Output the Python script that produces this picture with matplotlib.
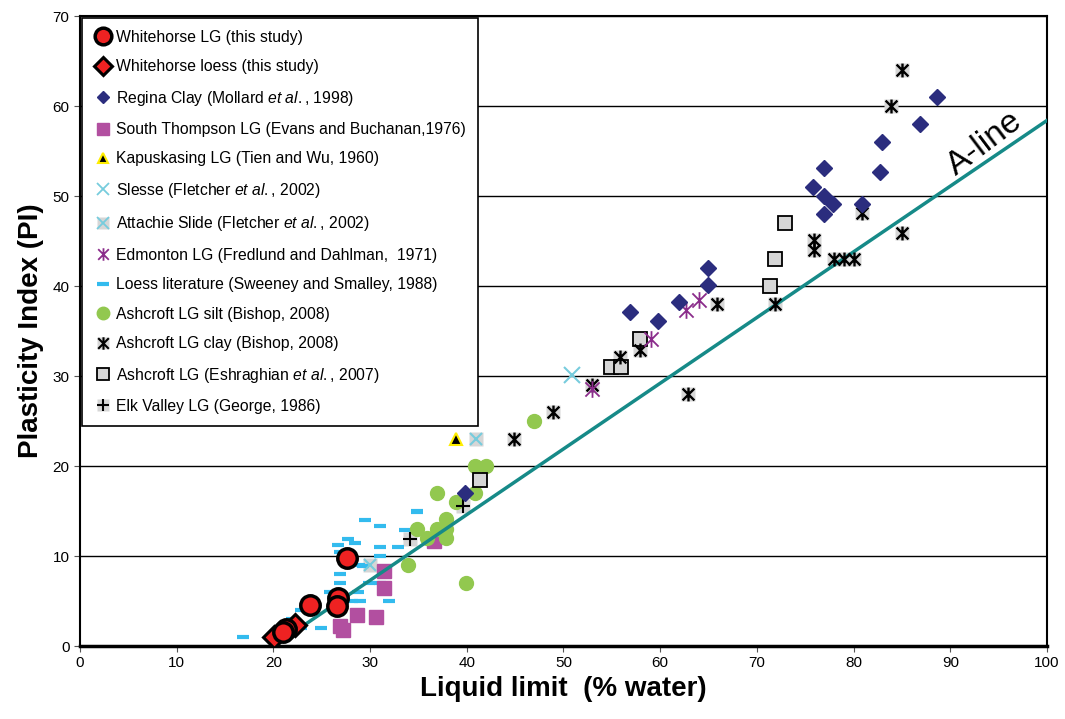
import numpy as np
import matplotlib
matplotlib.use('Agg')
import matplotlib.pyplot as plt
from matplotlib.lines import Line2D
from matplotlib.path import Path

plt.rcParams['font.family'] = ['Liberation Sans', 'DejaVu Sans']
plt.rcParams['mathtext.fontset'] = 'custom'
plt.rcParams['mathtext.it'] = 'Liberation Sans:italic'
plt.rcParams['mathtext.rm'] = 'Liberation Sans'

# liquid limit (LL) and plasticity index (PI) for each data set
wh_lg_ll = [21.3, 21.0, 23.8, 26.7, 26.6, 27.6]
wh_lg_pi = [1.9, 1.6, 4.6, 5.3, 4.4, 9.8]
wh_loess_ll = [20.1, 22.2]
wh_loess_pi = [1.0, 2.3]
regina_ll = [39.8, 56.9, 59.8, 61.9, 64.9, 64.9, 76.9, 75.8, 76.9, 77.9, 76.9, 80.9, 82.7, 82.9, 86.9, 88.6]
regina_pi = [17.0, 37.1, 36.1, 38.2, 42.0, 40.1, 53.1, 51.0, 50.0, 49.1, 48.0, 49.1, 52.7, 56.0, 58.0, 61.0]
sthompson_ll = [31.4, 31.4, 28.6, 30.6, 26.9, 27.2, 36.6]
sthompson_pi = [8.3, 6.5, 3.5, 3.2, 2.2, 1.8, 11.7]
kapus_ll = [38.9]
kapus_pi = [23.0]
slesse_ll = [50.9]
slesse_pi = [30.1]
attachie_ll = [41.0, 30.0]
attachie_pi = [23.0, 9.0]
edmonton_ll = [52.9, 59.1, 62.7, 64.0]
edmonton_pi = [28.6, 34.1, 37.3, 38.5]
loess_ll = [16.9, 21.9, 22.9, 24.9, 22.9, 24.0, 25.9, 28.8, 26.9, 28.1, 29.0, 26.9, 26.9,
            28.9, 29.9, 31.0, 32.0, 26.9, 27.9, 26.7, 27.7, 28.4, 29.5, 31.0, 31.0, 31.0,
            32.9, 33.6, 34.9, 34.8, 29.3]
loess_pi = [1.0, 3.0, 2.0, 2.0, 4.0, 4.0, 6.0, 6.0, 5.0, 5.0, 5.0, 7.0, 8.0,
            9.0, 7.0, 7.0, 5.0, 10.4, 10.0, 11.2, 11.9, 11.4, 14.0, 13.3, 11.0, 10.0,
            11.0, 12.9, 15.0, 14.9, 8.9]
silt_ll = [40.8, 42.0, 36.9, 40.9, 38.9, 37.8, 34.9, 36.9, 37.8, 35.9, 37.8, 33.9, 39.9, 46.9]
silt_pi = [20.0, 20.0, 17.0, 17.0, 16.0, 14.1, 13.0, 13.0, 13.0, 12.0, 12.0, 9.0, 7.0, 25.0]
clay_ll = [44.9, 48.9, 52.9, 55.8, 57.9, 65.9, 62.9, 85.0, 83.9, 80.9, 75.9, 75.9, 85.0,
           78.0, 79.0, 80.0, 71.9]
clay_pi = [23.0, 26.0, 29.0, 32.1, 32.9, 38.0, 28.0, 64.0, 60.0, 48.1, 45.1, 44.0, 45.9,
           43.0, 43.0, 43.0, 38.0]
eshrag_ll = [57.9, 54.9, 55.9, 72.9, 71.9, 71.4, 41.4]
eshrag_pi = [34.1, 31.0, 31.0, 47.0, 43.0, 40.0, 18.4]
elk_ll = [34.1, 39.6]
elk_pi = [11.9, 15.6]

aline_ll = np.array([20, 100])
aline_pi = 0.73 * (aline_ll - 20)

fig = plt.figure(figsize=(10.65, 7.19), dpi=100)
ax = fig.add_axes([0.0751, 0.1015, 0.908, 0.8762])

# "ж"-like asterisk: vertical bar plus an X
ast = Path([(0, -1), (0, 1), (-0.85, -0.85), (0.85, 0.85), (-0.85, 0.85), (0.85, -0.85)],
           [Path.MOVETO, Path.LINETO, Path.MOVETO, Path.LINETO, Path.MOVETO, Path.LINETO])
grey = '#d6d6d6'

def pts(x, y, **kw):
    return ax.plot(x, y, linestyle='none', **kw)[0]

# background grey squares behind the grey-boxed symbols
pts(clay_ll, clay_pi, marker='s', ms=10, mfc=grey, mec='none', zorder=3)
pts(attachie_ll, attachie_pi, marker='s', ms=10, mfc=grey, mec='none', zorder=3)
pts(elk_ll, elk_pi, marker='s', ms=10, mfc=grey, mec='none', zorder=3)

pts(loess_ll, loess_pi, marker='_', ms=9, mew=3, color='#33bbee', zorder=4)
pts(sthompson_ll, sthompson_pi, marker='s', ms=10, mfc='#b24fa0', mec='#b24fa0', zorder=4)
pts(silt_ll, silt_pi, marker='o', ms=10, mfc='#92c84f', mec='#92c84f', zorder=4)
pts(eshrag_ll, eshrag_pi, marker='s', ms=10, mfc=grey, mec='black', mew=1.3, zorder=5)
pts(clay_ll, clay_pi, marker=ast, ms=10, color='black', mew=1.7, zorder=5)
pts(elk_ll, elk_pi, marker='+', ms=10, color='black', mew=1.5, zorder=5)
pts(attachie_ll, attachie_pi, marker='x', ms=9, color='#77ccdd', mew=1.5, zorder=5)
pts(slesse_ll, slesse_pi, marker='x', ms=11, color='#77ccdd', mew=1.5, zorder=5)
pts(edmonton_ll, edmonton_pi, marker=ast, ms=12, color='#8b2c8b', mew=1.3, zorder=5)
pts(kapus_ll, kapus_pi, marker='^', ms=8, mfc='black', mec='#ffee00', mew=1.5, zorder=5)
pts(regina_ll, regina_pi, marker='D', ms=8, mfc='#2b2d7e', mec='#2b2d7e', zorder=5)
pts(wh_loess_ll, wh_loess_pi, marker='D', ms=11, mfc='#ee2222', mec='black', mew=2.2, zorder=6)
pts(wh_lg_ll, wh_lg_pi, marker='o', ms=14, mfc='#ee2222', mec='black', mew=2.5, zorder=6)

ax.plot(aline_ll, aline_pi, color='#168a88', lw=2.5, zorder=4)
ax.text(93.6, 55.8, 'A-line', fontsize=24, rotation=37, ha='center', va='center', rotation_mode='anchor')

ax.set_xlim(0, 100)
ax.set_ylim(0, 70)
ax.set_xticks(range(0, 101, 10))
ax.set_yticks(range(0, 71, 10))
ax.yaxis.grid(True, color='black', lw=1)
ax.set_axisbelow(True)
ax.tick_params(labelsize=11, direction='out', length=4, color='#555555')
for s in ax.spines.values():
    s.set_color('black')
    s.set_linewidth(1.5)
ax.spines['bottom'].set_linewidth(2.5)

ax.set_xlabel('Liquid limit  (% water)', fontsize=20, fontweight='bold', labelpad=4)
ax.set_ylabel('Plasticity Index (PI)', fontsize=20, fontweight='bold', labelpad=6)

def lmk(**kw):
    return Line2D([], [], linestyle='none', **kw)

sq = lambda: lmk(marker='s', ms=9, mfc=grey, mec='none')
handles = [
    lmk(marker='o', ms=12, mfc='#ee2222', mec='black', mew=2.5),
    lmk(marker='D', ms=9, mfc='#ee2222', mec='black', mew=2.2),
    lmk(marker='D', ms=6, mfc='#2b2d7e', mec='#2b2d7e'),
    lmk(marker='s', ms=9, mfc='#b24fa0', mec='#b24fa0'),
    lmk(marker='^', ms=7, mfc='black', mec='#ffee00', mew=1.5),
    lmk(marker='x', ms=8, color='#77ccdd', mew=1.3),
    (sq(), lmk(marker='x', ms=8, color='#77ccdd', mew=1.3)),
    lmk(marker=ast, ms=9, color='#8b2c8b', mew=1.3),
    lmk(marker='_', ms=8, mew=3, color='#33bbee'),
    lmk(marker='o', ms=9, mfc='#92c84f', mec='#92c84f'),
    (sq(), lmk(marker=ast, ms=9, color='black', mew=1.5)),
    lmk(marker='s', ms=9, mfc=grey, mec='black', mew=1.3),
    (sq(), lmk(marker='+', ms=9, color='black', mew=1.5)),
]
labels = [
    'Whitehorse LG (this study)',
    'Whitehorse loess (this study)',
    r'Regina Clay (Mollard $et\ al.$, 1998)',
    'South Thompson LG (Evans and Buchanan,1976)',
    'Kapuskasing LG (Tien and Wu, 1960)',
    r'Slesse (Fletcher $et\ al.$, 2002)',
    r'Attachie Slide (Fletcher $et\ al.$, 2002)',
    'Edmonton LG (Fredlund and Dahlman,  1971)',
    'Loess literature (Sweeney and Smalley, 1988)',
    'Ashcroft LG silt (Bishop, 2008)',
    'Ashcroft LG clay (Bishop, 2008)',
    r'Ashcroft LG (Eshraghian $et\ al.$, 2007)',
    'Elk Valley LG (George, 1986)',
]
leg = ax.legend(handles, labels, loc='upper left', bbox_to_anchor=(0.002, 0.997), fontsize=11.3,
                frameon=True, fancybox=False, edgecolor='black', framealpha=1,
                handlelength=1.2, handletextpad=0.25, labelspacing=0.92, borderpad=0.75,
                borderaxespad=0)
leg.get_frame().set_linewidth(1.2)
leg.set_zorder(10)

fig.savefig('out.png', dpi=100)
